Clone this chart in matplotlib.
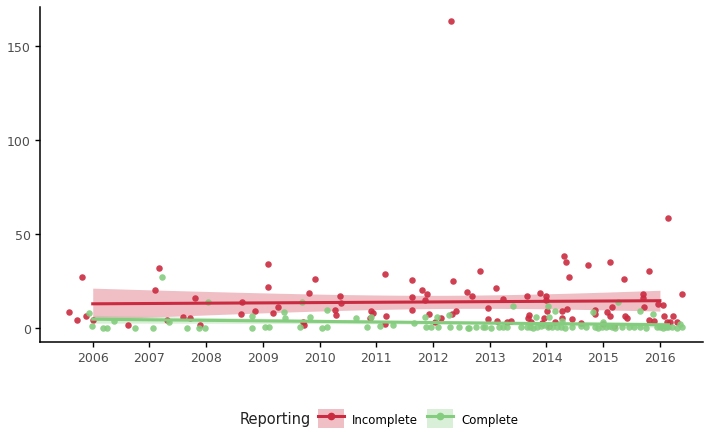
import numpy as np
import matplotlib
matplotlib.use("Agg")
import matplotlib.pyplot as plt
from matplotlib.patches import Patch
from matplotlib.lines import Line2D
from matplotlib.legend_handler import HandlerTuple

# incomplete reporting (year, value)
red_year = [2005.59, 2005.72, 2005.81, 2005.88, 2006.00, 2006.62, 2007.09, 2007.16, 2007.31, 2007.60,
            2007.71, 2007.80, 2007.90, 2008.61, 2008.64, 2008.86, 2009.09, 2009.09, 2009.17, 2009.26,
            2009.70, 2009.72, 2009.81, 2009.92, 2010.27, 2010.29, 2010.36, 2010.37, 2010.89, 2010.90,
            2010.94, 2011.15, 2011.17, 2011.15, 2011.63, 2011.63, 2011.63, 2011.80, 2011.86, 2011.89,
            2011.93, 2012.03, 2012.14, 2012.33, 2012.31, 2012.35, 2012.40, 2012.60, 2012.68, 2012.83,
            2012.97, 2012.97, 2013.11, 2013.13, 2013.23, 2013.37, 2013.65, 2013.67, 2013.69, 2013.88,
            2013.95, 2013.99, 2013.99, 2014.01, 2014.04, 2014.27, 2014.27, 2014.31, 2014.34, 2014.36,
            2014.40, 2014.73, 2014.85, 2014.85, 2015.07, 2015.12, 2015.12, 2015.15, 2015.19, 2015.37,
            2015.38, 2015.70, 2015.70, 2015.72, 2015.81, 2015.81, 2015.96, 2016.05, 2016.07, 2016.12,
            2016.14, 2016.18, 2016.23, 2016.39,
            2013.30, 2013.72, 2013.92, 2014.15, 2014.45, 2015.00, 2015.42, 2015.90, 2016.30, 2014.60]
red_val = [8.3, 4.0, 26.9, 6.1, 4.0, 1.3, 20.0, 31.8, 4.0, 5.6,
           5.1, 15.8, 1.3, 7.2, 13.6, 8.8, 33.9, 21.6, 7.7, 10.9,
           2.9, 1.3, 18.4, 25.9, 9.3, 6.7, 16.8, 13.1, 5.1, 8.8,
           7.7, 28.6, 6.1, 1.9, 25.4, 16.3, 9.3, 20.0, 14.7, 17.9,
           7.2, 2.9, 5.1, 7.2, 163.6, 24.8, 8.8, 19.0, 16.8, 30.2,
           10.4, 4.5, 21.1, 3.5, 15.2, 3.5, 16.8, 5.1, 6.7, 18.4,
           5.1, 16.8, 14.7, 8.8, 0.8, 8.8, 5.1, 38.2, 35.0, 9.9,
           27.0, 33.4, 9.3, 7.2, 8.3, 6.1, 35.0, 10.9, 0.8, 25.9,
           6.1, 17.9, 15.8, 10.9, 30.2, 4.0, 12.5, 12.0, 6.1, 2.9,
           58.5, 2.9, 6.1, 17.9,
           3.0, 3.0, 2.5, 3.0, 4.5, 2.0, 5.0, 3.5, 3.0, 2.5]

# complete reporting (year, value)
green_year = [2005.93, 2005.98, 2006.18, 2006.26, 2006.37, 2006.74, 2007.06, 2007.22, 2007.34, 2007.66,
              2007.87, 2007.98, 2008.03, 2008.80, 2008.80, 2009.03, 2009.10, 2009.37, 2009.39, 2009.65,
              2009.69, 2009.83, 2010.04, 2010.13, 2010.13, 2010.64, 2010.83, 2010.90, 2011.06, 2011.29,
              2011.66, 2011.86, 2011.87, 2011.96, 2012.07, 2012.08, 2012.28, 2012.30, 2012.61, 2012.63,
              2012.75, 2012.88, 2013.16, 2013.23, 2013.41, 2013.65, 2013.71, 2013.81, 2013.83, 2014.02,
              2014.04, 2014.02, 2014.15, 2014.18, 2014.25, 2014.27, 2014.82, 2014.85, 2014.98, 2014.99,
              2015.15, 2015.26, 2015.33, 2015.65, 2015.65, 2015.88, 2016.00, 2016.14, 2016.35, 2016.39,
              2012.45, 2012.92, 2013.02, 2013.30, 2013.55, 2013.76, 2013.90, 2014.10, 2014.33, 2014.45,
              2014.70, 2014.90, 2015.05, 2015.20, 2015.45, 2015.75, 2015.95, 2016.06, 2016.22, 2016.30,
              2013.95, 2014.60, 2015.55, 2015.10, 2016.10]
green_val = [7.7, 0.8, 0.0, 0.0, 3.5, 0.0, 0.0, 27.0, 2.9, 0.0,
             0.0, 0.0, 13.6, 6.1, 0.0, 0.3, 0.3, 8.3, 5.1, 0.3,
             13.6, 5.6, 0.0, 0.3, 9.3, 5.1, 0.3, 5.6, 0.8, 1.3,
             2.4, 5.6, 0.3, 0.3, 5.6, 0.3, 6.7, 0.3, 0.0, 0.0,
             0.3, 0.3, 0.3, 0.3, 11.5, 0.3, 0.3, 5.6, 0.3, 11.5,
             5.6, 0.3, 8.8, 0.3, 0.3, 3.5, 8.3, 0.3, 0.3, 2.9,
             0.3, 13.6, 0.3, 8.8, 0.3, 7.2, 0.3, 0.3, 1.9, 0.3,
             0.5, 0.3, 0.0, 0.5, 0.3, 0.0, 1.0, 0.3, 0.0, 0.5,
             0.3, 0.0, 0.5, 0.0, 0.3, 0.0, 0.5, 0.0, 0.3, 0.0,
             1.5, 1.0, 0.5, 1.0, 0.5]

red = "#CB2B40"
green = "#84CC7E"


def fit_band(x, y, x0, x1):
    x = np.asarray(x)
    y = np.asarray(y)
    b, a = np.polyfit(x, y, 1)
    xs = np.linspace(x0, x1, 80)
    n = len(x)
    resid = y - (a + b * x)
    s = np.sqrt(np.sum(resid ** 2) / (n - 2))
    se = s * np.sqrt(1 / n + (xs - x.mean()) ** 2 / np.sum((x - x.mean()) ** 2))
    ys = a + b * xs
    return xs, ys, ys - 1.97 * se, ys + 1.97 * se


fig = plt.figure(figsize=(7.04, 4.35), dpi=100)
ax = fig.add_axes([0.0568, 0.2115, 0.9418, 0.77])

ax.scatter(red_year, red_val, s=22, color=red, alpha=0.9, linewidths=0, zorder=3)
ax.scatter(green_year, green_val, s=22, color=green, alpha=0.9, linewidths=0, zorder=3)

xs, ys, lo, hi = fit_band(red_year, red_val, 2006.0, 2016.0)
ax.fill_between(xs, lo, hi, color=red, alpha=0.3, linewidth=0, zorder=2)
ax.plot(xs, ys, color=red, lw=2.2, zorder=4)

xs, ys, lo, hi = fit_band(green_year, green_val, 2006.0, 2016.15)
ax.fill_between(xs, lo, hi, color=green, alpha=0.3, linewidth=0, zorder=2)
ax.plot(xs, ys, color=green, lw=2.2, zorder=4)

ax.set_xlim(2005.07, 2016.76)
ax.set_ylim(-7.7, 171)
ax.set_xticks(range(2006, 2017))
ax.set_yticks([0, 50, 100, 150])
for side in ["top", "right"]:
    ax.spines[side].set_visible(False)
for side in ["left", "bottom"]:
    ax.spines[side].set_linewidth(1.1)
ax.tick_params(length=3.5, width=1, labelsize=9, labelcolor="#4D4D4D", pad=3)

handles = [
    (Patch(facecolor=red, alpha=0.3, edgecolor="none"),
     Line2D([], [], color=red, lw=2.2, marker="o", markersize=4.5)),
    (Patch(facecolor=green, alpha=0.3, edgecolor="none"),
     Line2D([], [], color=green, lw=2.2, marker="o", markersize=4.5)),
]
fig.text(0.341, 0.0345, "Reporting", fontsize=10.5, color="#222222", va="center", ha="left")
fig.legend(handles, ["Incomplete", "Complete"], loc="center left", bbox_to_anchor=(0.437, 0.0345),
           ncol=2, frameon=False, fontsize=8.5, handler_map={tuple: HandlerTuple(ndivide=1, pad=0)},
           handlelength=2.2, handleheight=2.1, columnspacing=0.76, handletextpad=0.68,
           borderpad=0.4)

fig.savefig("out.png", dpi=100)
